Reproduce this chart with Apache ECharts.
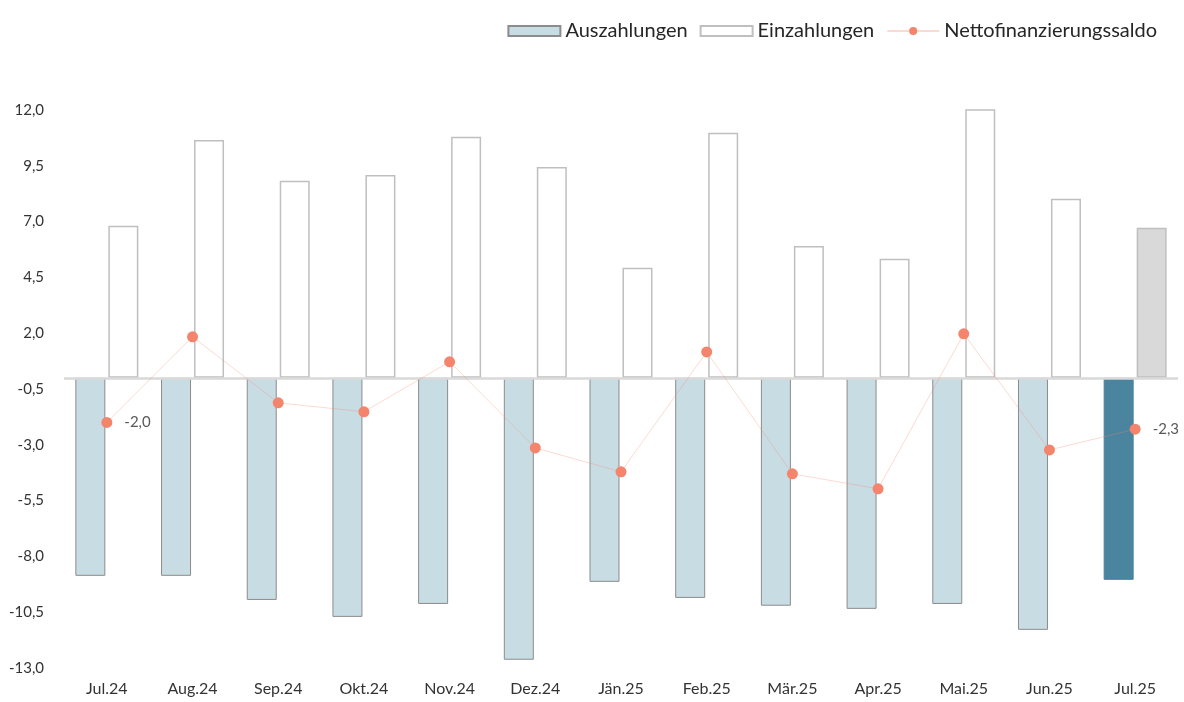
<!DOCTYPE html>
<html>
<head>
<meta charset="utf-8">
<script src="https://cdn.jsdelivr.net/npm/echarts@6/dist/echarts.min.js"></script>
<style>
  html, body { margin: 0; padding: 0; background: #fff; }
  #chart { width: 1184px; height: 702px; }
</style>
</head>
<body>
<div id="chart"></div>
<script>
const months = ['Jul.24', 'Aug.24', 'Sep.24', 'Okt.24', 'Nov.24', 'Dez.24', 'Jän.25', 'Feb.25', 'Mär.25', 'Apr.25', 'Mai.25', 'Jun.25', 'Jul.25']
const auszahlungen = [-8.87, -8.87, -9.95, -10.71, -10.13, -12.63, -9.14, -9.86, -10.21, -10.35, -10.13, -11.29, -9.05]
const einzahlungen = [6.81, 10.66, 8.83, 9.09, 10.8, 9.45, 4.93, 10.98, 5.91, 5.33, 12.14, 8.02, 6.72]
const saldo = [-2.0, 1.84, -1.12, -1.52, 0.72, -3.14, -4.21, 1.16, -4.3, -4.97, 1.97, -3.23, -2.3]

const fmt = v => v.toFixed(1).replace('.', ',')
const last = months.length - 1
const font = 'Lato, "Open Sans", sans-serif'

const chart = echarts.init(document.getElementById('chart'))

// letzter Monat farblich hervorheben
const auszData = auszahlungen.map((v, i) => i === last
  ? { value: v, itemStyle: { color: '#4a849f', borderColor: '#4a849f' } }
  : v)
const einzData = einzahlungen.map((v, i) => i === last
  ? { value: v, itemStyle: { color: '#d9d9d9', borderColor: '#bfbfbf' } }
  : v)
// nur erster und letzter Punkt beschriftet
const saldoData = saldo.map((v, i) => (i === 0 || i === last)
  ? { value: v, label: { show: true, position: 'right', distance: 12, formatter: p => fmt(p.value) } }
  : v)

const option = {
  animation: false,
  textStyle: { fontFamily: font },
  legend: {
    top: 16,
    right: 22,
    itemWidth: 52,
    itemHeight: 10,
    itemGap: 12,
    textStyle: { fontSize: 20, color: '#262626', fontFamily: font },
    data: [
      { name: 'Auszahlungen', icon: 'rect' },
      { name: 'Einzahlungen', icon: 'rect' },
      { name: 'Nettofinanzierungssaldo' }
    ]
  },
  grid: {
    left: 64,
    right: 6,
    top: 110,
    bottom: 34
  },
  xAxis: {
    type: 'category',
    data: months,
    axisLine: { show: false },
    axisTick: { show: false },
    axisLabel: { color: '#333333', fontSize: 16, margin: 13, fontFamily: font }
  },
  yAxis: {
    type: 'value',
    min: -13,
    max: 12,
    interval: 2.5,
    splitLine: { show: false },
    axisLine: { show: false },
    axisTick: { show: false },
    axisLabel: { color: '#333333', fontSize: 15, margin: 20, formatter: fmt, fontFamily: font }
  },
  series: [
    {
      name: 'Auszahlungen',
      type: 'bar',
      data: auszData,
      barWidth: '35%',
      barGap: '10%',
      itemStyle: { color: '#c8dce4', borderColor: '#8c8c8c', borderWidth: 1 },
      markLine: {
        silent: true,
        symbol: 'none',
        label: { show: false },
        lineStyle: { color: '#d9d9d9', width: 2.5, type: 'solid' },
        data: [{ yAxis: 0 }]
      }
    },
    {
      name: 'Einzahlungen',
      type: 'bar',
      data: einzData,
      barWidth: '35%',
      itemStyle: { color: '#ffffff', borderColor: '#bfbfbf', borderWidth: 1.5 }
    },
    {
      name: 'Nettofinanzierungssaldo',
      type: 'line',
      data: saldoData,
      symbol: 'circle',
      symbolSize: 11,
      itemStyle: { color: '#f4846b' },
      lineStyle: { color: 'rgba(244, 132, 107, 0.3)', width: 1 },
      label: { color: '#595959', fontSize: 15, fontFamily: font },
      z: 5
    }
  ]
}

chart.setOption(option)
</script>
</body>
</html>
